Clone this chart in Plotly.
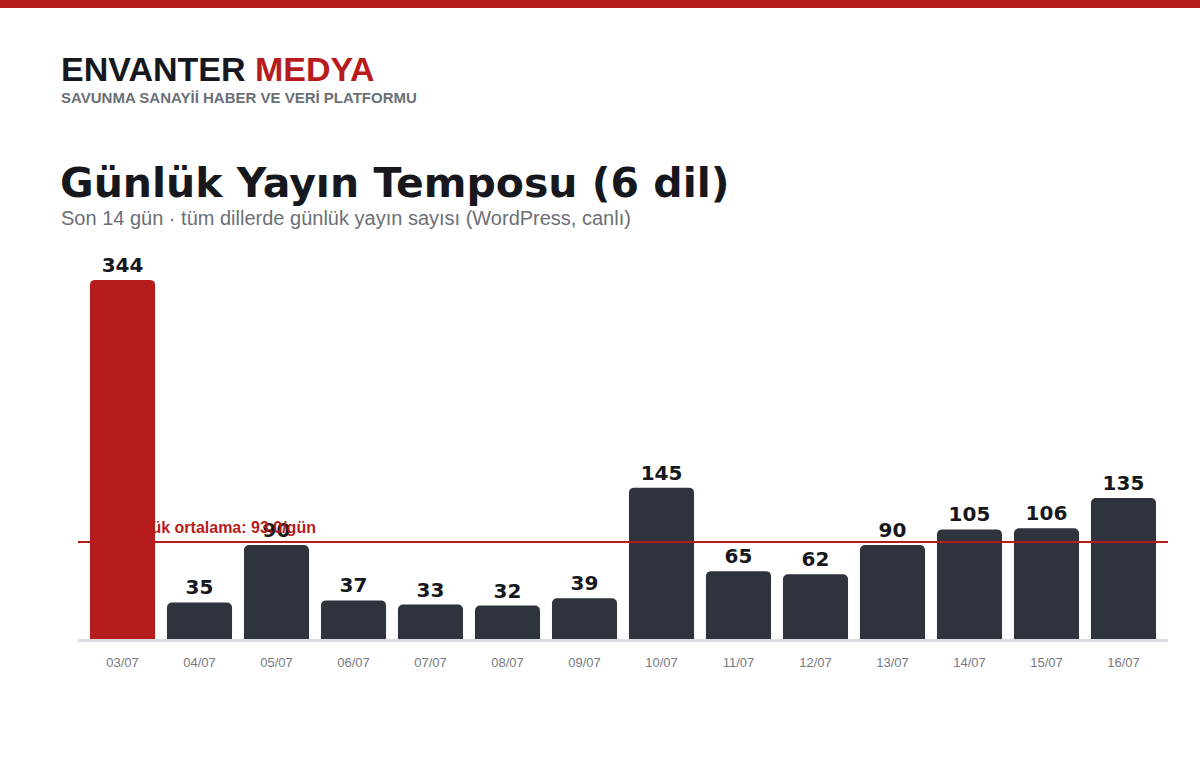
import plotly.graph_objects as go

# data
days = ["03/07", "04/07", "05/07", "06/07", "07/07", "08/07", "09/07",
        "10/07", "11/07", "12/07", "13/07", "14/07", "15/07", "16/07"]
posts = [344, 35, 90, 37, 33, 32, 39, 145, 65, 62, 90, 105, 106, 135]
avg_per_day = 93.0

RED = "#b71c1c"
DARK = "#2e333d"
INK = "#16181d"
GREY = "#6b6f76"
HEAVY = "DejaVu Sans"
ARIAL = "Liberation Sans"

W, H = 1200, 760
M_L, M_R, M_T, M_B = 78, 32, 244, 121
plot_h = H - M_T - M_B


def py(ypx):
    # pixel row -> paper y
    return (H - M_B - ypx) / plot_h


def px(xpx):
    return (xpx - M_L) / (W - M_L - M_R)


colors = [RED if i == 0 else DARK for i in range(len(posts))]

fig = go.Figure()
fig.add_trace(go.Bar(
    x=days, y=posts,
    marker=dict(color=colors, line_width=0),
    text=[str(v) for v in posts],
    textposition="outside",
    textfont=dict(family=HEAVY, size=20, color=INK, weight="bold"),
    cliponaxis=False,
    hoverinfo="skip",
))

# average line
fig.add_shape(type="line", xref="paper", x0=0, x1=1, yref="y", y0=avg_per_day, y1=avg_per_day,
              line=dict(color=RED, width=2), layer="above")
fig.add_annotation(x=days[0], xref="x", y=avg_per_day, yref="y", xanchor="left", yanchor="bottom",
                   xshift=-10, yshift=4, showarrow=False,
                   text=f"Günlük ortalama: {avg_per_day:.1f}/gün",
                   font=dict(family=ARIAL, size=16, color=RED, weight="bold"))

# header
fig.add_shape(type="rect", xref="paper", yref="paper", x0=px(-2), x1=px(W + 2), y0=py(8), y1=py(-2),
              fillcolor=RED, line_width=0)
fig.add_annotation(xref="paper", yref="paper", x=px(59), y=py(69), xanchor="left", yanchor="middle",
                   showarrow=False,
                   text=f"ENVANTER <span style='color:{RED}'>MEDYA</span>",
                   font=dict(family=ARIAL, size=34, color=INK, weight="bold"))
fig.add_annotation(xref="paper", yref="paper", x=px(59), y=py(97), xanchor="left", yanchor="middle",
                   showarrow=False,
                   text="SAVUNMA SANAYİİ HABER VE VERİ PLATFORMU",
                   font=dict(family=ARIAL, size=15, color=GREY, weight="bold"))
fig.add_annotation(xref="paper", yref="paper", x=px(58), y=py(183), xanchor="left", yanchor="middle",
                   showarrow=False,
                   text="Günlük Yayın Temposu (6 dil)",
                   font=dict(family=HEAVY, size=41, color=INK, weight="bold"))
fig.add_annotation(xref="paper", yref="paper", x=px(59), y=py(218), xanchor="left", yanchor="middle",
                   showarrow=False,
                   text="Son 14 gün · tüm dillerde günlük yayın sayısı (WordPress, canlı)",
                   font=dict(family=ARIAL, size=20, color=GREY))

fig.update_layout(
    width=W, height=H,
    margin=dict(l=M_L, r=M_R, t=M_T, b=M_B),
    paper_bgcolor="white", plot_bgcolor="white",
    bargap=0.155, barcornerradius=5,
    showlegend=False,
    xaxis=dict(range=[-0.578, len(days) - 1 + 0.578], showline=True, linecolor="#dcdde2", linewidth=3,
               showgrid=False, ticks="", ticklabelstandoff=9,
               tickfont=dict(family=ARIAL, size=13, color="#777a80")),
    yaxis=dict(range=[0, max(posts) * 1.1], visible=False, showgrid=False, zeroline=False),
)

fig.write_html("out.html", config={"displayModeBar": False},
               post_script="document.body.style.margin='0';")
